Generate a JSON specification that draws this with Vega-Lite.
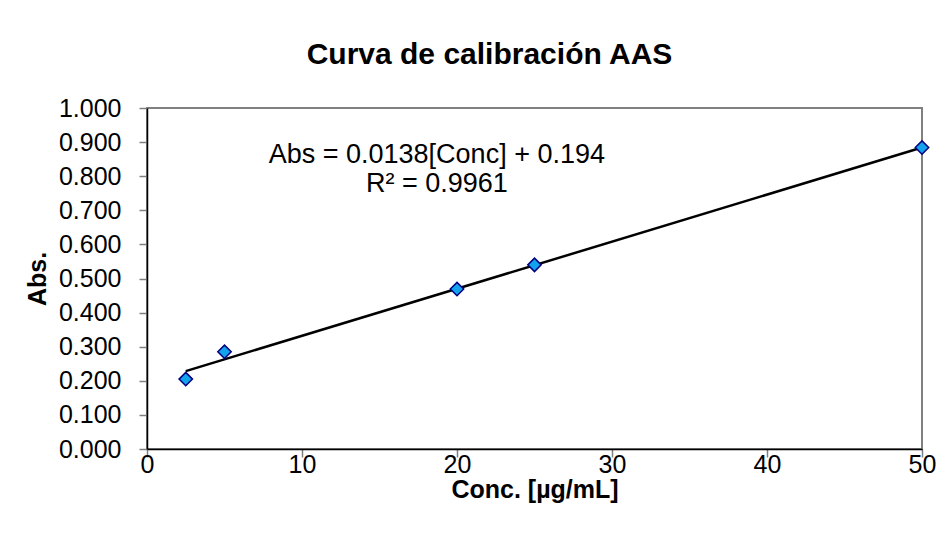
{
  "$schema": "https://vega.github.io/schema/vega-lite/v6.json",
  "width": 775,
  "height": 341,
  "autosize": "none",
  "padding": {"left": 147, "top": 108, "right": 26, "bottom": 89},
  "background": "white",
  "config": {
    "font": "Liberation Sans",
    "view": {"stroke": "#808080", "strokeWidth": 2},
    "axis": {"grid": false, "labelOverlap": false, "domainColor": "black", "domainWidth": 1.5, "tickColor": "#808080", "tickWidth": 1.5, "tickSize": 8, "labelFont": "Liberation Sans", "labelFontSize": 25, "labelColor": "black", "titleFont": "Liberation Sans", "titleFontSize": 25, "titleFontWeight": "bold", "titleColor": "black"}
  },
  "title": {"text": "Curva de calibración AAS", "font": "Liberation Sans", "fontSize": 30, "fontWeight": "bold", "color": "black", "anchor": "middle", "offset": 26, "dx": -45},
  "datasets": {
    "pts": [
      {"conc": 2.5, "abs": 0.205},
      {"conc": 5, "abs": 0.285},
      {"conc": 20, "abs": 0.469},
      {"conc": 25, "abs": 0.540},
      {"conc": 50, "abs": 0.884}
    ],
    "fit": [
      {"conc": 2.5, "abs": 0.2285},
      {"conc": 50, "abs": 0.884}
    ],
    "eq": [
      {"conc": 18.7, "abs": 0.862, "label": "Abs = 0.0138[Conc] + 0.194"},
      {"conc": 18.7, "abs": 0.777, "label": "R² = 0.9961"}
    ]
  },
  "encoding": {
    "x": {"field": "conc", "type": "quantitative", "scale": {"domain": [0, 50], "nice": false}, "axis": {"title": "Conc. [µg/mL]", "values": [0, 10, 20, 30, 40, 50], "labelOverlap": false, "labelFlush": false, "labelPadding": -5, "titlePadding": 0}},
    "y": {"field": "abs", "type": "quantitative", "scale": {"domain": [0, 1], "nice": false}, "axis": {"title": "Abs.", "values": [0, 0.1, 0.2, 0.3, 0.4, 0.5, 0.6, 0.7, 0.8, 0.9, 1.0], "tickCount": 11, "labelOverlap": false, "labelFlush": false, "format": ".3f", "labelPadding": 18, "titlePadding": 8}}
  },
  "layer": [
    {
      "data": {"name": "fit"},
      "mark": {"type": "line", "color": "black", "strokeWidth": 2.5}
    },
    {
      "data": {"name": "pts"},
      "mark": {"type": "point", "shape": "diamond", "filled": true, "fill": "#13a3ec", "stroke": "#000080", "strokeWidth": 1.5, "size": 180, "opacity": 1}
    },
    {
      "data": {"name": "eq"},
      "mark": {"type": "text", "fontSize": 27, "color": "black", "align": "center", "baseline": "middle"},
      "encoding": {
        "text": {"field": "label"}
      }
    }
  ]
}
